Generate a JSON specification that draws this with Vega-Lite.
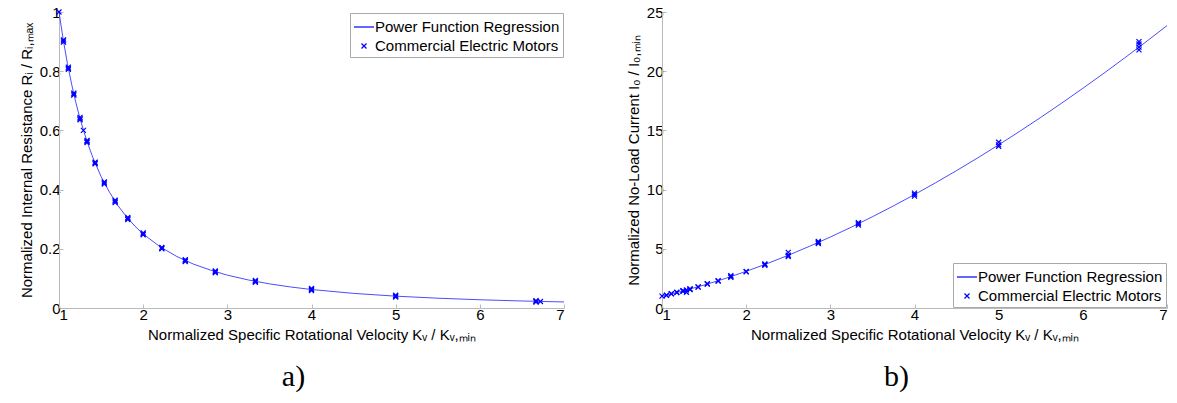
{
  "$schema": "https://vega.github.io/schema/vega-lite/v6.json",
  "background": "white",
  "padding": {"left": 19, "top": 5, "right": 0, "bottom": 0},
  "spacing": 61,
  "config": {
    "view": {"stroke": null},
    "font": "Liberation Sans",
    "axis": {
      "grid": false,
      "domainColor": "#bbbbbb",
      "tickColor": "#bbbbbb",
      "tickSize": -4,
      "labelFont": "Liberation Sans",
      "labelFontSize": 15,
      "labelColor": "#000000",
      "labelPadding": 3,
      "titleFont": "Liberation Sans",
      "titleFontSize": 15,
      "titleFontWeight": "normal",
      "titleColor": "#000000",
      "titlePadding": 5
    },
    "legend": {
      "labelFont": "Liberation Sans",
      "labelFontSize": 15,
      "labelColor": "#000000",
      "labelLimit": 400,
      "strokeColor": "#aaaaaa",
      "fillColor": "#ffffff",
      "padding": 3,
      "symbolSize": 400,
      "symbolStrokeColor": "#0000ff",
      "symbolFillColor": "transparent",
      "symbolStrokeWidth": 1.2,
      "labelOffset": 0,
      "rowPadding": 0,
      "title": null
    },
    "title": {
      "font": "Liberation Serif",
      "fontSize": 30,
      "fontWeight": "normal",
      "orient": "bottom",
      "anchor": "middle",
      "dx": -18,
      "offset": 20,
      "color": "#000000"
    }
  },
  "hconcat": [
    {
      "width": 505,
      "height": 296,
      "title": {"text": "a)"},
      "layer": [
        {
          "data": {"values": [
            {"kv": 1, "r": 1}, {"kv": 1.05, "r": 0.907}, {"kv": 1.1, "r": 0.826}, {"kv": 1.15, "r": 0.756},
            {"kv": 1.2, "r": 0.694}, {"kv": 1.25, "r": 0.64}, {"kv": 1.3, "r": 0.592}, {"kv": 1.35, "r": 0.549},
            {"kv": 1.4, "r": 0.51}, {"kv": 1.5, "r": 0.444}, {"kv": 1.6, "r": 0.391}, {"kv": 1.7, "r": 0.346},
            {"kv": 1.8, "r": 0.309}, {"kv": 1.9, "r": 0.277}, {"kv": 2, "r": 0.25}, {"kv": 2.2, "r": 0.207},
            {"kv": 2.4, "r": 0.174}, {"kv": 2.6, "r": 0.148}, {"kv": 2.8, "r": 0.128}, {"kv": 3, "r": 0.111},
            {"kv": 3.25, "r": 0.0947}, {"kv": 3.5, "r": 0.0816}, {"kv": 3.75, "r": 0.0711}, {"kv": 4, "r": 0.0625},
            {"kv": 4.5, "r": 0.0494}, {"kv": 5, "r": 0.04}, {"kv": 5.5, "r": 0.0331}, {"kv": 6, "r": 0.0278},
            {"kv": 6.5, "r": 0.0237}, {"kv": 7, "r": 0.0204}
          ]},
          "mark": {"type": "line", "color": "#0000ff", "strokeWidth": 1, "opacity": 0.7, "clip": true},
          "encoding": {
            "x": {"field": "kv", "type": "quantitative", "scale": {"domain": [1, 7], "nice": false, "zero": false},
                  "axis": {"values": [1, 2, 3, 4, 5, 6, 7], "format": "~g", "title": "Normalized Specific Rotational Velocity Kᵥ / Kᵥ,ₘᵢₙ"}},
            "y": {"field": "r", "type": "quantitative", "scale": {"domain": [0, 1], "nice": false},
                  "axis": {"values": [0, 0.2, 0.4, 0.6, 0.8, 1], "format": "~g", "title": "Normalized Internal Resistance Rᵢ / Rᵢ,ₘₐₓ"}}
          }
        },
        {
          "data": {"values": [
            {"kv": 1.0, "r": 1.0, "series": "Commercial Electric Motors"},
            {"kv": 1.053, "r": 0.9025, "series": "Commercial Electric Motors"},
            {"kv": 1.053, "r": 0.898, "series": "Commercial Electric Motors"},
            {"kv": 1.053, "r": 0.906, "series": "Commercial Electric Motors"},
            {"kv": 1.111, "r": 0.81, "series": "Commercial Electric Motors"},
            {"kv": 1.111, "r": 0.806, "series": "Commercial Electric Motors"},
            {"kv": 1.111, "r": 0.814, "series": "Commercial Electric Motors"},
            {"kv": 1.176, "r": 0.7225, "series": "Commercial Electric Motors"},
            {"kv": 1.176, "r": 0.719, "series": "Commercial Electric Motors"},
            {"kv": 1.176, "r": 0.726, "series": "Commercial Electric Motors"},
            {"kv": 1.25, "r": 0.64, "series": "Commercial Electric Motors"},
            {"kv": 1.25, "r": 0.636, "series": "Commercial Electric Motors"},
            {"kv": 1.25, "r": 0.644, "series": "Commercial Electric Motors"},
            {"kv": 1.29, "r": 0.6, "series": "Commercial Electric Motors"},
            {"kv": 1.333, "r": 0.5625, "series": "Commercial Electric Motors"},
            {"kv": 1.333, "r": 0.559, "series": "Commercial Electric Motors"},
            {"kv": 1.333, "r": 0.566, "series": "Commercial Electric Motors"},
            {"kv": 1.429, "r": 0.49, "series": "Commercial Electric Motors"},
            {"kv": 1.429, "r": 0.487, "series": "Commercial Electric Motors"},
            {"kv": 1.429, "r": 0.493, "series": "Commercial Electric Motors"},
            {"kv": 1.538, "r": 0.4225, "series": "Commercial Electric Motors"},
            {"kv": 1.538, "r": 0.419, "series": "Commercial Electric Motors"},
            {"kv": 1.538, "r": 0.426, "series": "Commercial Electric Motors"},
            {"kv": 1.667, "r": 0.36, "series": "Commercial Electric Motors"},
            {"kv": 1.667, "r": 0.356, "series": "Commercial Electric Motors"},
            {"kv": 1.667, "r": 0.364, "series": "Commercial Electric Motors"},
            {"kv": 1.818, "r": 0.3025, "series": "Commercial Electric Motors"},
            {"kv": 1.818, "r": 0.299, "series": "Commercial Electric Motors"},
            {"kv": 1.818, "r": 0.306, "series": "Commercial Electric Motors"},
            {"kv": 2.0, "r": 0.25, "series": "Commercial Electric Motors"},
            {"kv": 2.0, "r": 0.247, "series": "Commercial Electric Motors"},
            {"kv": 2.0, "r": 0.254, "series": "Commercial Electric Motors"},
            {"kv": 2.222, "r": 0.2025, "series": "Commercial Electric Motors"},
            {"kv": 2.222, "r": 0.2, "series": "Commercial Electric Motors"},
            {"kv": 2.222, "r": 0.205, "series": "Commercial Electric Motors"},
            {"kv": 2.5, "r": 0.16, "series": "Commercial Electric Motors"},
            {"kv": 2.5, "r": 0.157, "series": "Commercial Electric Motors"},
            {"kv": 2.5, "r": 0.163, "series": "Commercial Electric Motors"},
            {"kv": 2.857, "r": 0.1225, "series": "Commercial Electric Motors"},
            {"kv": 2.857, "r": 0.119, "series": "Commercial Electric Motors"},
            {"kv": 2.857, "r": 0.125, "series": "Commercial Electric Motors"},
            {"kv": 3.333, "r": 0.09, "series": "Commercial Electric Motors"},
            {"kv": 3.333, "r": 0.087, "series": "Commercial Electric Motors"},
            {"kv": 3.333, "r": 0.093, "series": "Commercial Electric Motors"},
            {"kv": 4.0, "r": 0.0625, "series": "Commercial Electric Motors"},
            {"kv": 4.0, "r": 0.059, "series": "Commercial Electric Motors"},
            {"kv": 4.0, "r": 0.066, "series": "Commercial Electric Motors"},
            {"kv": 5.0, "r": 0.04, "series": "Commercial Electric Motors"},
            {"kv": 5.0, "r": 0.037, "series": "Commercial Electric Motors"},
            {"kv": 5.0, "r": 0.043, "series": "Commercial Electric Motors"},
            {"kv": 6.667, "r": 0.0225, "series": "Commercial Electric Motors"},
            {"kv": 6.667, "r": 0.02, "series": "Commercial Electric Motors"},
            {"kv": 6.667, "r": 0.025, "series": "Commercial Electric Motors"},
            {"kv": 6.72, "r": 0.022, "series": "Commercial Electric Motors"}
          ]},
          "mark": {"type": "point", "filled": false, "color": "#0000ff", "strokeWidth": 1.2, "size": 400, "opacity": 1},
          "encoding": {
            "x": {"field": "kv", "type": "quantitative"},
            "y": {"field": "r", "type": "quantitative"},
            "shape": {"field": "series", "type": "nominal",
              "scale": {"domain": ["Power Function Regression", "Commercial Electric Motors"],
                        "range": ["M-1,0L1,0", "M-0.25,-0.25L0.25,0.25M-0.25,0.25L0.25,-0.25"]},
              "legend": {"orient": "top-right", "offset": 1}}
          }
        }
      ]
    },
    {
      "width": 505,
      "height": 296,
      "title": {"text": "b)"},
      "layer": [
        {
          "data": {"values": [
            {"kv": 1, "i0": 1}, {"kv": 1.25, "i0": 1.439}, {"kv": 1.5, "i0": 1.936}, {"kv": 1.75, "i0": 2.49},
            {"kv": 2, "i0": 3.095}, {"kv": 2.25, "i0": 3.75}, {"kv": 2.5, "i0": 4.453}, {"kv": 2.75, "i0": 5.201},
            {"kv": 3, "i0": 5.993}, {"kv": 3.25, "i0": 6.83}, {"kv": 3.5, "i0": 7.706}, {"kv": 3.75, "i0": 8.624},
            {"kv": 4, "i0": 9.58}, {"kv": 4.25, "i0": 10.574}, {"kv": 4.5, "i0": 11.607}, {"kv": 4.75, "i0": 12.675},
            {"kv": 5, "i0": 13.78}, {"kv": 5.25, "i0": 14.923}, {"kv": 5.5, "i0": 16.099}, {"kv": 5.75, "i0": 17.31},
            {"kv": 6, "i0": 18.553}, {"kv": 6.25, "i0": 19.829}, {"kv": 6.5, "i0": 21.137}, {"kv": 6.75, "i0": 22.477},
            {"kv": 7, "i0": 23.85}
          ]},
          "mark": {"type": "line", "color": "#0000ff", "strokeWidth": 1, "opacity": 0.7, "clip": true},
          "encoding": {
            "x": {"field": "kv", "type": "quantitative", "scale": {"domain": [1, 7], "nice": false, "zero": false},
                  "axis": {"values": [1, 2, 3, 4, 5, 6, 7], "format": "~g", "title": "Normalized Specific Rotational Velocity Kᵥ / Kᵥ,ₘᵢₙ"}},
            "y": {"field": "i0", "type": "quantitative", "scale": {"domain": [0, 25], "nice": false},
                  "axis": {"values": [0, 5, 10, 15, 20, 25], "format": "~g", "title": "Normalized No-Load Current I₀ / I₀,ₘᵢₙ"}}
          }
        },
        {
          "data": {"values": [
            {"kv": 1.0, "i0": 1.0, "series": "Commercial Electric Motors"},
            {"kv": 1.053, "i0": 1.087, "series": "Commercial Electric Motors"},
            {"kv": 1.053, "i0": 1.06, "series": "Commercial Electric Motors"},
            {"kv": 1.111, "i0": 1.187, "series": "Commercial Electric Motors"},
            {"kv": 1.111, "i0": 1.21, "series": "Commercial Electric Motors"},
            {"kv": 1.176, "i0": 1.303, "series": "Commercial Electric Motors"},
            {"kv": 1.176, "i0": 1.33, "series": "Commercial Electric Motors"},
            {"kv": 1.25, "i0": 1.439, "series": "Commercial Electric Motors"},
            {"kv": 1.25, "i0": 1.4, "series": "Commercial Electric Motors"},
            {"kv": 1.25, "i0": 1.47, "series": "Commercial Electric Motors"},
            {"kv": 1.29, "i0": 1.33, "series": "Commercial Electric Motors"},
            {"kv": 1.29, "i0": 1.52, "series": "Commercial Electric Motors"},
            {"kv": 1.333, "i0": 1.598, "series": "Commercial Electric Motors"},
            {"kv": 1.333, "i0": 1.62, "series": "Commercial Electric Motors"},
            {"kv": 1.333, "i0": 1.55, "series": "Commercial Electric Motors"},
            {"kv": 1.429, "i0": 1.789, "series": "Commercial Electric Motors"},
            {"kv": 1.429, "i0": 1.76, "series": "Commercial Electric Motors"},
            {"kv": 1.538, "i0": 2.018, "series": "Commercial Electric Motors"},
            {"kv": 1.538, "i0": 2.05, "series": "Commercial Electric Motors"},
            {"kv": 1.667, "i0": 2.299, "series": "Commercial Electric Motors"},
            {"kv": 1.667, "i0": 2.27, "series": "Commercial Electric Motors"},
            {"kv": 1.818, "i0": 2.65, "series": "Commercial Electric Motors"},
            {"kv": 1.818, "i0": 2.6, "series": "Commercial Electric Motors"},
            {"kv": 1.818, "i0": 2.72, "series": "Commercial Electric Motors"},
            {"kv": 2.0, "i0": 3.095, "series": "Commercial Electric Motors"},
            {"kv": 2.0, "i0": 3.05, "series": "Commercial Electric Motors"},
            {"kv": 2.222, "i0": 3.675, "series": "Commercial Electric Motors"},
            {"kv": 2.222, "i0": 3.6, "series": "Commercial Electric Motors"},
            {"kv": 2.222, "i0": 3.72, "series": "Commercial Electric Motors"},
            {"kv": 2.5, "i0": 4.453, "series": "Commercial Electric Motors"},
            {"kv": 2.5, "i0": 4.35, "series": "Commercial Electric Motors"},
            {"kv": 2.5, "i0": 4.7, "series": "Commercial Electric Motors"},
            {"kv": 2.857, "i0": 5.535, "series": "Commercial Electric Motors"},
            {"kv": 2.857, "i0": 5.45, "series": "Commercial Electric Motors"},
            {"kv": 2.857, "i0": 5.62, "series": "Commercial Electric Motors"},
            {"kv": 3.333, "i0": 7.117, "series": "Commercial Electric Motors"},
            {"kv": 3.333, "i0": 7.0, "series": "Commercial Electric Motors"},
            {"kv": 3.333, "i0": 7.2, "series": "Commercial Electric Motors"},
            {"kv": 4.0, "i0": 9.58, "series": "Commercial Electric Motors"},
            {"kv": 4.0, "i0": 9.45, "series": "Commercial Electric Motors"},
            {"kv": 4.0, "i0": 9.7, "series": "Commercial Electric Motors"},
            {"kv": 5.0, "i0": 13.78, "series": "Commercial Electric Motors"},
            {"kv": 5.0, "i0": 13.65, "series": "Commercial Electric Motors"},
            {"kv": 5.0, "i0": 14.0, "series": "Commercial Electric Motors"},
            {"kv": 6.667, "i0": 22.03, "series": "Commercial Electric Motors"},
            {"kv": 6.667, "i0": 21.8, "series": "Commercial Electric Motors"},
            {"kv": 6.667, "i0": 22.3, "series": "Commercial Electric Motors"},
            {"kv": 6.667, "i0": 22.5, "series": "Commercial Electric Motors"}
          ]},
          "mark": {"type": "point", "filled": false, "color": "#0000ff", "strokeWidth": 1.2, "size": 400, "opacity": 1},
          "encoding": {
            "x": {"field": "kv", "type": "quantitative"},
            "y": {"field": "i0", "type": "quantitative"},
            "shape": {"field": "series", "type": "nominal",
              "scale": {"domain": ["Power Function Regression", "Commercial Electric Motors"],
                        "range": ["M-1,0L1,0", "M-0.25,-0.25L0.25,0.25M-0.25,0.25L0.25,-0.25"]},
              "legend": {"orient": "bottom-right", "offset": 1}}
          }
        }
      ]
    }
  ]
}
